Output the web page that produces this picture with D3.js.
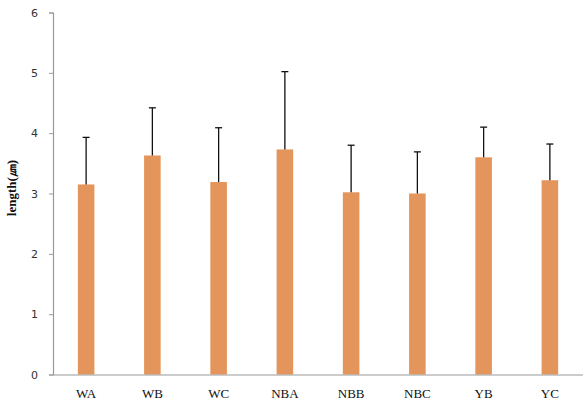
<!DOCTYPE html>
<html>
<head>
<meta charset="utf-8">
<script src="https://cdn.jsdelivr.net/npm/d3@7"></script>
<style>
  html, body { margin: 0; padding: 0; background: #fff; }
  svg { display: block; }
</style>
</head>
<body>
<svg id="chart" width="583" height="403"></svg>
<script>
const categories = ["WA", "WB", "WC", "NBA", "NBB", "NBC", "YB", "YC"];
const means = [3.15, 3.63, 3.19, 3.73, 3.02, 3.00, 3.60, 3.22];
const upperErrors = [0.78, 0.79, 0.90, 1.29, 0.78, 0.69, 0.50, 0.60];
const yTicks = [0, 1, 2, 3, 4, 5, 6];

const svg = d3.select("#chart");
const plotLeft = 53, plotRight = 583, plotTop = 12.5, plotBottom = 374.5;

const x = d3.scaleBand().domain(categories).range([plotLeft, plotRight]).paddingInner(0.75).paddingOuter(0.375);
const y = d3.scaleLinear().domain([0, 6]).range([plotBottom, plotTop]);

// bars
svg.append("g").selectAll("rect").data(categories).join("rect")
  .attr("x", d => x(d))
  .attr("y", (d, i) => y(means[i]))
  .attr("width", x.bandwidth())
  .attr("height", (d, i) => y(0) - y(means[i]))
  .attr("fill", "#E4955B");

// error bars (upper only)
const eb = svg.append("g").attr("stroke", "#111").attr("stroke-width", 1.3);
categories.forEach((c, i) => {
  const cx = x(c) + x.bandwidth() / 2;
  const yt = y(means[i] + upperErrors[i]);
  eb.append("line").attr("x1", cx).attr("x2", cx).attr("y1", y(means[i])).attr("y2", yt);
  eb.append("line").attr("x1", cx - 3.5).attr("x2", cx + 3.5).attr("y1", yt).attr("y2", yt);
});

// y axis
const yAxis = svg.append("g").attr("transform", `translate(${plotLeft},0)`)
  .call(d3.axisLeft(y).tickValues(yTicks).tickSize(4).tickPadding(11).tickFormat(d3.format("d")));
yAxis.select(".domain").attr("stroke", "#999").attr("stroke-width", 1.2);
yAxis.selectAll(".tick line").attr("stroke", "#999");
yAxis.selectAll(".tick text").attr("fill", "#333").style("font-family", "'DejaVu Sans', sans-serif").style("font-size", "11px");

// x axis
const xAxis = svg.append("g").attr("transform", `translate(0,${plotBottom})`)
  .call(d3.axisBottom(x).tickSize(0).tickPadding(14));
xAxis.select(".domain").attr("stroke", "#999").attr("stroke-width", 1.2);
xAxis.selectAll(".tick text").attr("fill", "#111").style("font-family", "'Liberation Serif', serif").style("font-size", "13px");

// y axis title
svg.append("text")
  .attr("transform", "translate(16,188) rotate(-90)")
  .attr("text-anchor", "middle")
  .style("font-family", "'Liberation Serif', serif")
  .style("font-weight", "bold")
  .style("font-size", "13px")
  .attr("fill", "#111")
  .text("length(㎛)");
</script>
</body>
</html>
